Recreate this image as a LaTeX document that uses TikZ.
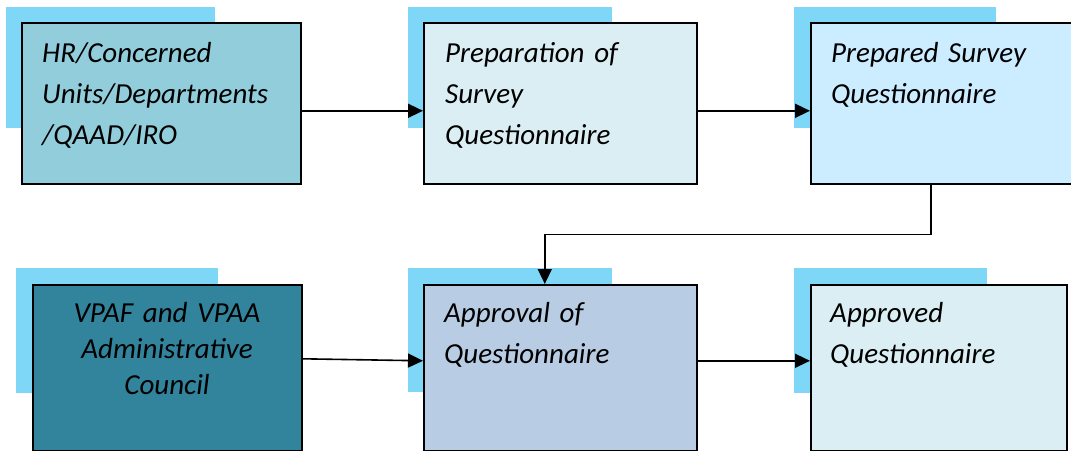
\documentclass[tikz,border=0pt]{standalone}
\usepackage{fontspec}
\setmainfont{Carlito}
\usetikzlibrary{arrows.meta}

\definecolor{shadowblue}{HTML}{7FD7F7}
\definecolor{fillA}{HTML}{92CDDC}
\definecolor{fillB}{HTML}{DAEEF3}
\definecolor{fillC}{HTML}{CCECFF}
\definecolor{fillD}{HTML}{31849B}
\definecolor{fillE}{HTML}{B8CCE4}

\tikzset{
  backplate/.style={fill=shadowblue},
  stepbox/.style={draw=black, line width=1.6pt, rectangle, inner sep=0pt,
    anchor=north west},
  label/.style={inner sep=0pt, anchor=base west, text width=260pt, align=left,
    font=\fontsize{29pt}{41pt}\selectfont\itshape},
  clabel/.style={inner sep=0pt, anchor=base, text width=260pt, align=center,
    font=\fontsize{29pt}{36pt}\selectfont\itshape},
  flow/.style={draw=black, line width=1.6pt,
    -{Triangle[length=15pt,width=14pt]}},
}

\begin{document}
\begin{tikzpicture}[x=1pt, y=-1pt]
  \useasboundingbox (0,0) rectangle (1071,450);
  \clip (0,0) rectangle (1071,450);

  % light blue plates behind each box
  \fill[backplate] (6,7) rectangle (215,128);
  \fill[backplate] (408,7) rectangle (612,128);
  \fill[backplate] (794,7) rectangle (996,128);
  \fill[backplate] (16,268) rectangle (218,393);
  \fill[backplate] (408,268) rectangle (612,392);
  \fill[backplate] (794,268) rectangle (987,393);

  % boxes of the upper row
  \node[stepbox, fill=fillA, minimum width=279pt, minimum height=161pt] (b1) at (21,22) {};
  \node[stepbox, fill=fillB, minimum width=273pt, minimum height=161pt] (b2) at (423,22) {};
  \node[stepbox, fill=fillC, minimum width=266pt, minimum height=161pt] (b3) at (810,22) {};

  % boxes of the lower row
  \node[stepbox, fill=fillD, minimum width=269pt, minimum height=165.5pt] (b4) at (32,284) {};
  \node[stepbox, fill=fillE, minimum width=273pt, minimum height=165.5pt] (b5) at (423,284) {};
  \node[stepbox, fill=fillB, minimum width=256pt, minimum height=165.5pt] (b6) at (810,284) {};

  % labels
  \node[label] (t1) at (42,62) {HR/Concerned\\Units/Departments\\/QAAD/IRO};
  \node[label] (t2) at (445,62) {Preparation of\\Survey\\Questionnaire};
  \node[label] (t3) at (831,62) {Prepared Survey\\Questionnaire};
  \node[clabel] (t4) at (167,322) {VPAF and VPAA\\Administrative\\Council};
  \node[label] (t5) at (444,322) {Approval of\\Questionnaire};
  \node[label] (t6) at (830,322) {Approved\\Questionnaire};

  % connectors
  \draw[flow] ([yshift=-7.5pt]b1.east) -- ([yshift=-7.5pt]b2.west);
  \draw[flow] ([yshift=-7.5pt]b2.east) -- ([yshift=-7.5pt]b3.west);
  \draw[flow] ([xshift=-13pt]b3.south) -- ++(0,50) -| ([xshift=-15.5pt]b5.north);
  \draw[flow] ([yshift=8.75pt]b4.east) -- ([yshift=6.75pt]b5.west);
  \draw[flow] ([yshift=6.75pt]b5.east) -- ([yshift=6.75pt]b6.west);
\end{tikzpicture}
\end{document}
